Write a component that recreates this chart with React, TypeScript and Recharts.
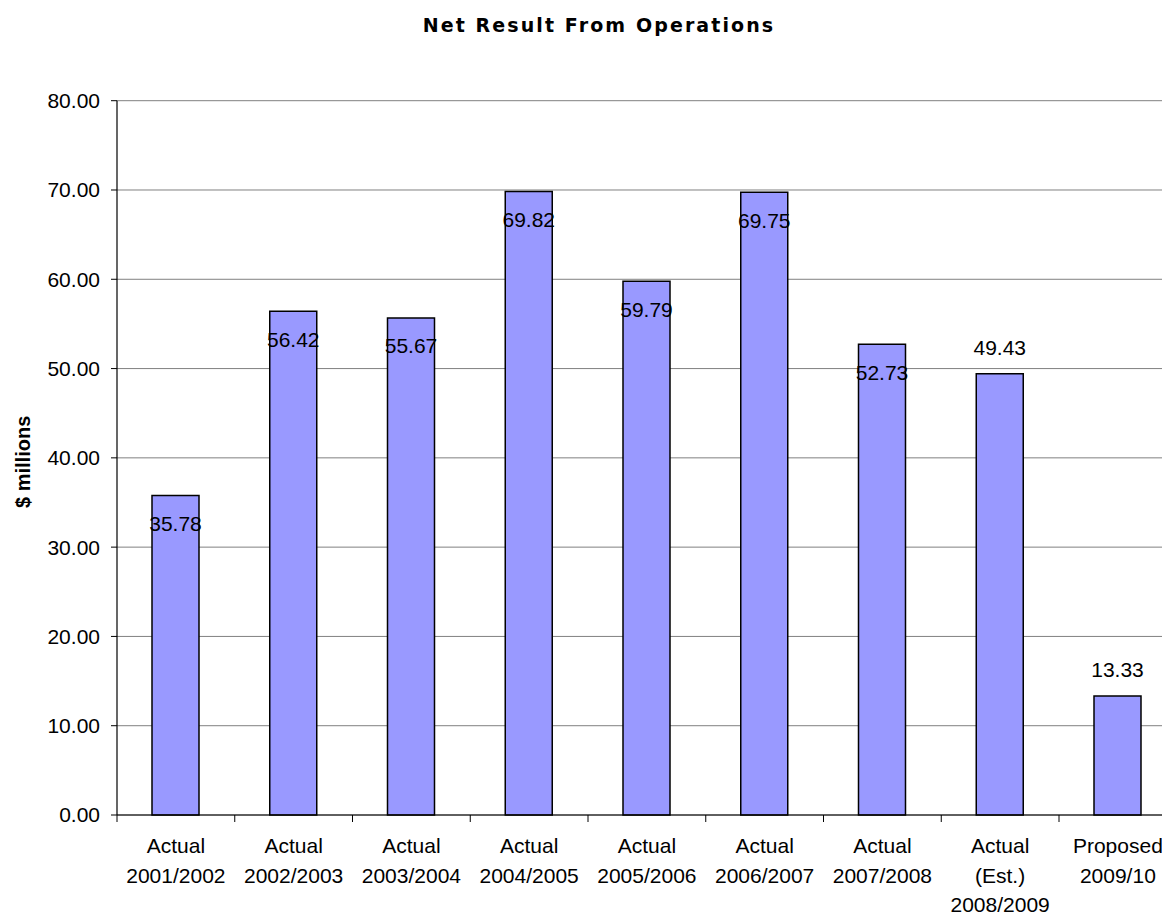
import React from 'react';
import { BarChart, Bar, XAxis, YAxis, CartesianGrid, LabelList } from 'recharts';

const categories: string[] = [
  'Actual\n2001/2002',
  'Actual\n2002/2003',
  'Actual\n2003/2004',
  'Actual\n2004/2005',
  'Actual\n2005/2006',
  'Actual\n2006/2007',
  'Actual\n2007/2008',
  'Actual\n(Est.)\n2008/2009',
  'Proposed\n2009/10',
];
const values: number[] = [35.78, 56.42, 55.67, 69.82, 59.79, 69.75, 52.73, 49.43, 13.33];
const labelAbove: boolean[] = [false, false, false, false, false, false, false, true, true];
const yTicks: number[] = [0, 10, 20, 30, 40, 50, 60, 70, 80];
const title = 'Net Result From Operations';
const yAxisTitle = '$ millions';

const data = categories.map((c, i) => ({ name: c, value: values[i], above: labelAbove[i] }));

const FONT = '"Liberation Sans", Arial, sans-serif';
const CHART_W = 1188;
const CHART_H = 907;
const MARGIN = { top: 92.7, right: 19.25, bottom: 0, left: 0 };
const Y_W = 109;
const PLOT_W = CHART_W - MARGIN.left - MARGIN.right - Y_W;
const BAND = PLOT_W / categories.length;

const XTick = (props: any) => {
  const { x, y, payload } = props;
  const lines = String(payload.value).split('\n');
  const left = x - BAND / 2;
  return (
    <g>
      <line x1={left} y1={y} x2={left} y2={y + 7} stroke="#000" strokeWidth={1} />
      <text x={x} y={y + 38.3} textAnchor="middle" fontFamily={FONT} fontSize={21} fill="#000">
        {lines.map((l, i) => (
          <tspan key={i} x={x} dy={i === 0 ? 0 : 29.4}>
            {l}
          </tspan>
        ))}
      </text>
    </g>
  );
};

const DataLabel = (props: any) => {
  const { x, y, width, value, index } = props;
  const cx = x + width / 2;
  const cy = labelAbove[index] ? y - 26 : y + 28;
  return (
    <text x={cx} y={cy} textAnchor="middle" dominantBaseline="central" fontFamily={FONT} fontSize={21} fill="#000">
      {Number(value).toFixed(2)}
    </text>
  );
};

const YLabel = (props: any) => {
  const vb = props.viewBox || { x: 0, y: 0, height: 0 };
  const cx = 22;
  const cy = vb.y + vb.height / 2 + 4;
  return (
    <text
      x={cx}
      y={cy}
      textAnchor="middle"
      transform={`rotate(-90, ${cx}, ${cy})`}
      fontFamily={FONT}
      fontWeight="bold"
      fontSize={20}
      fill="#000"
    >
      {yAxisTitle}
    </text>
  );
};

export default function App() {
  return (
    <div style={{ position: 'relative', width: 1162, height: CHART_H, overflow: 'hidden', background: '#fff' }}>
      <BarChart
        width={CHART_W}
        height={CHART_H}
        data={data}
        margin={MARGIN}
        style={{ background: '#fff' }}
      >
        <CartesianGrid vertical={false} stroke="#808080" strokeWidth={1} />
        <XAxis
          dataKey="name"
          height={100}
          interval={0}
          tickLine={false}
          tickSize={0}
          tickMargin={0}
          axisLine={{ stroke: '#000', strokeWidth: 1.2 }}
          tick={<XTick />}
        />
        <YAxis
          width={Y_W}
          domain={[0, 80]}
          ticks={yTicks}
          interval={0}
          tickSize={6}
          tickMargin={11}
          tickFormatter={(v: number) => v.toFixed(2)}
          axisLine={{ stroke: '#000', strokeWidth: 1.2 }}
          tickLine={{ stroke: '#000' }}
          tick={{ fontFamily: FONT, fontSize: 21, fill: '#000' }}
          label={<YLabel />}
        />
        <Bar dataKey="value" fill="#9999FF" stroke="#000" strokeWidth={1.5} barSize={47} isAnimationActive={false}>
          <LabelList dataKey="value" content={<DataLabel />} />
        </Bar>
      </BarChart>
      <svg width={CHART_W} height={60} style={{ position: 'absolute', left: 0, top: 0 }}>
        <text
          x={591}
          y={23.5}
          textAnchor="middle"
          fontFamily='"DejaVu Sans", sans-serif'
          fontWeight="bold"
          fontSize={19}
          letterSpacing={2.1}
          fill="#000"
        >
          {title}
        </text>
      </svg>
    </div>
  );
}
